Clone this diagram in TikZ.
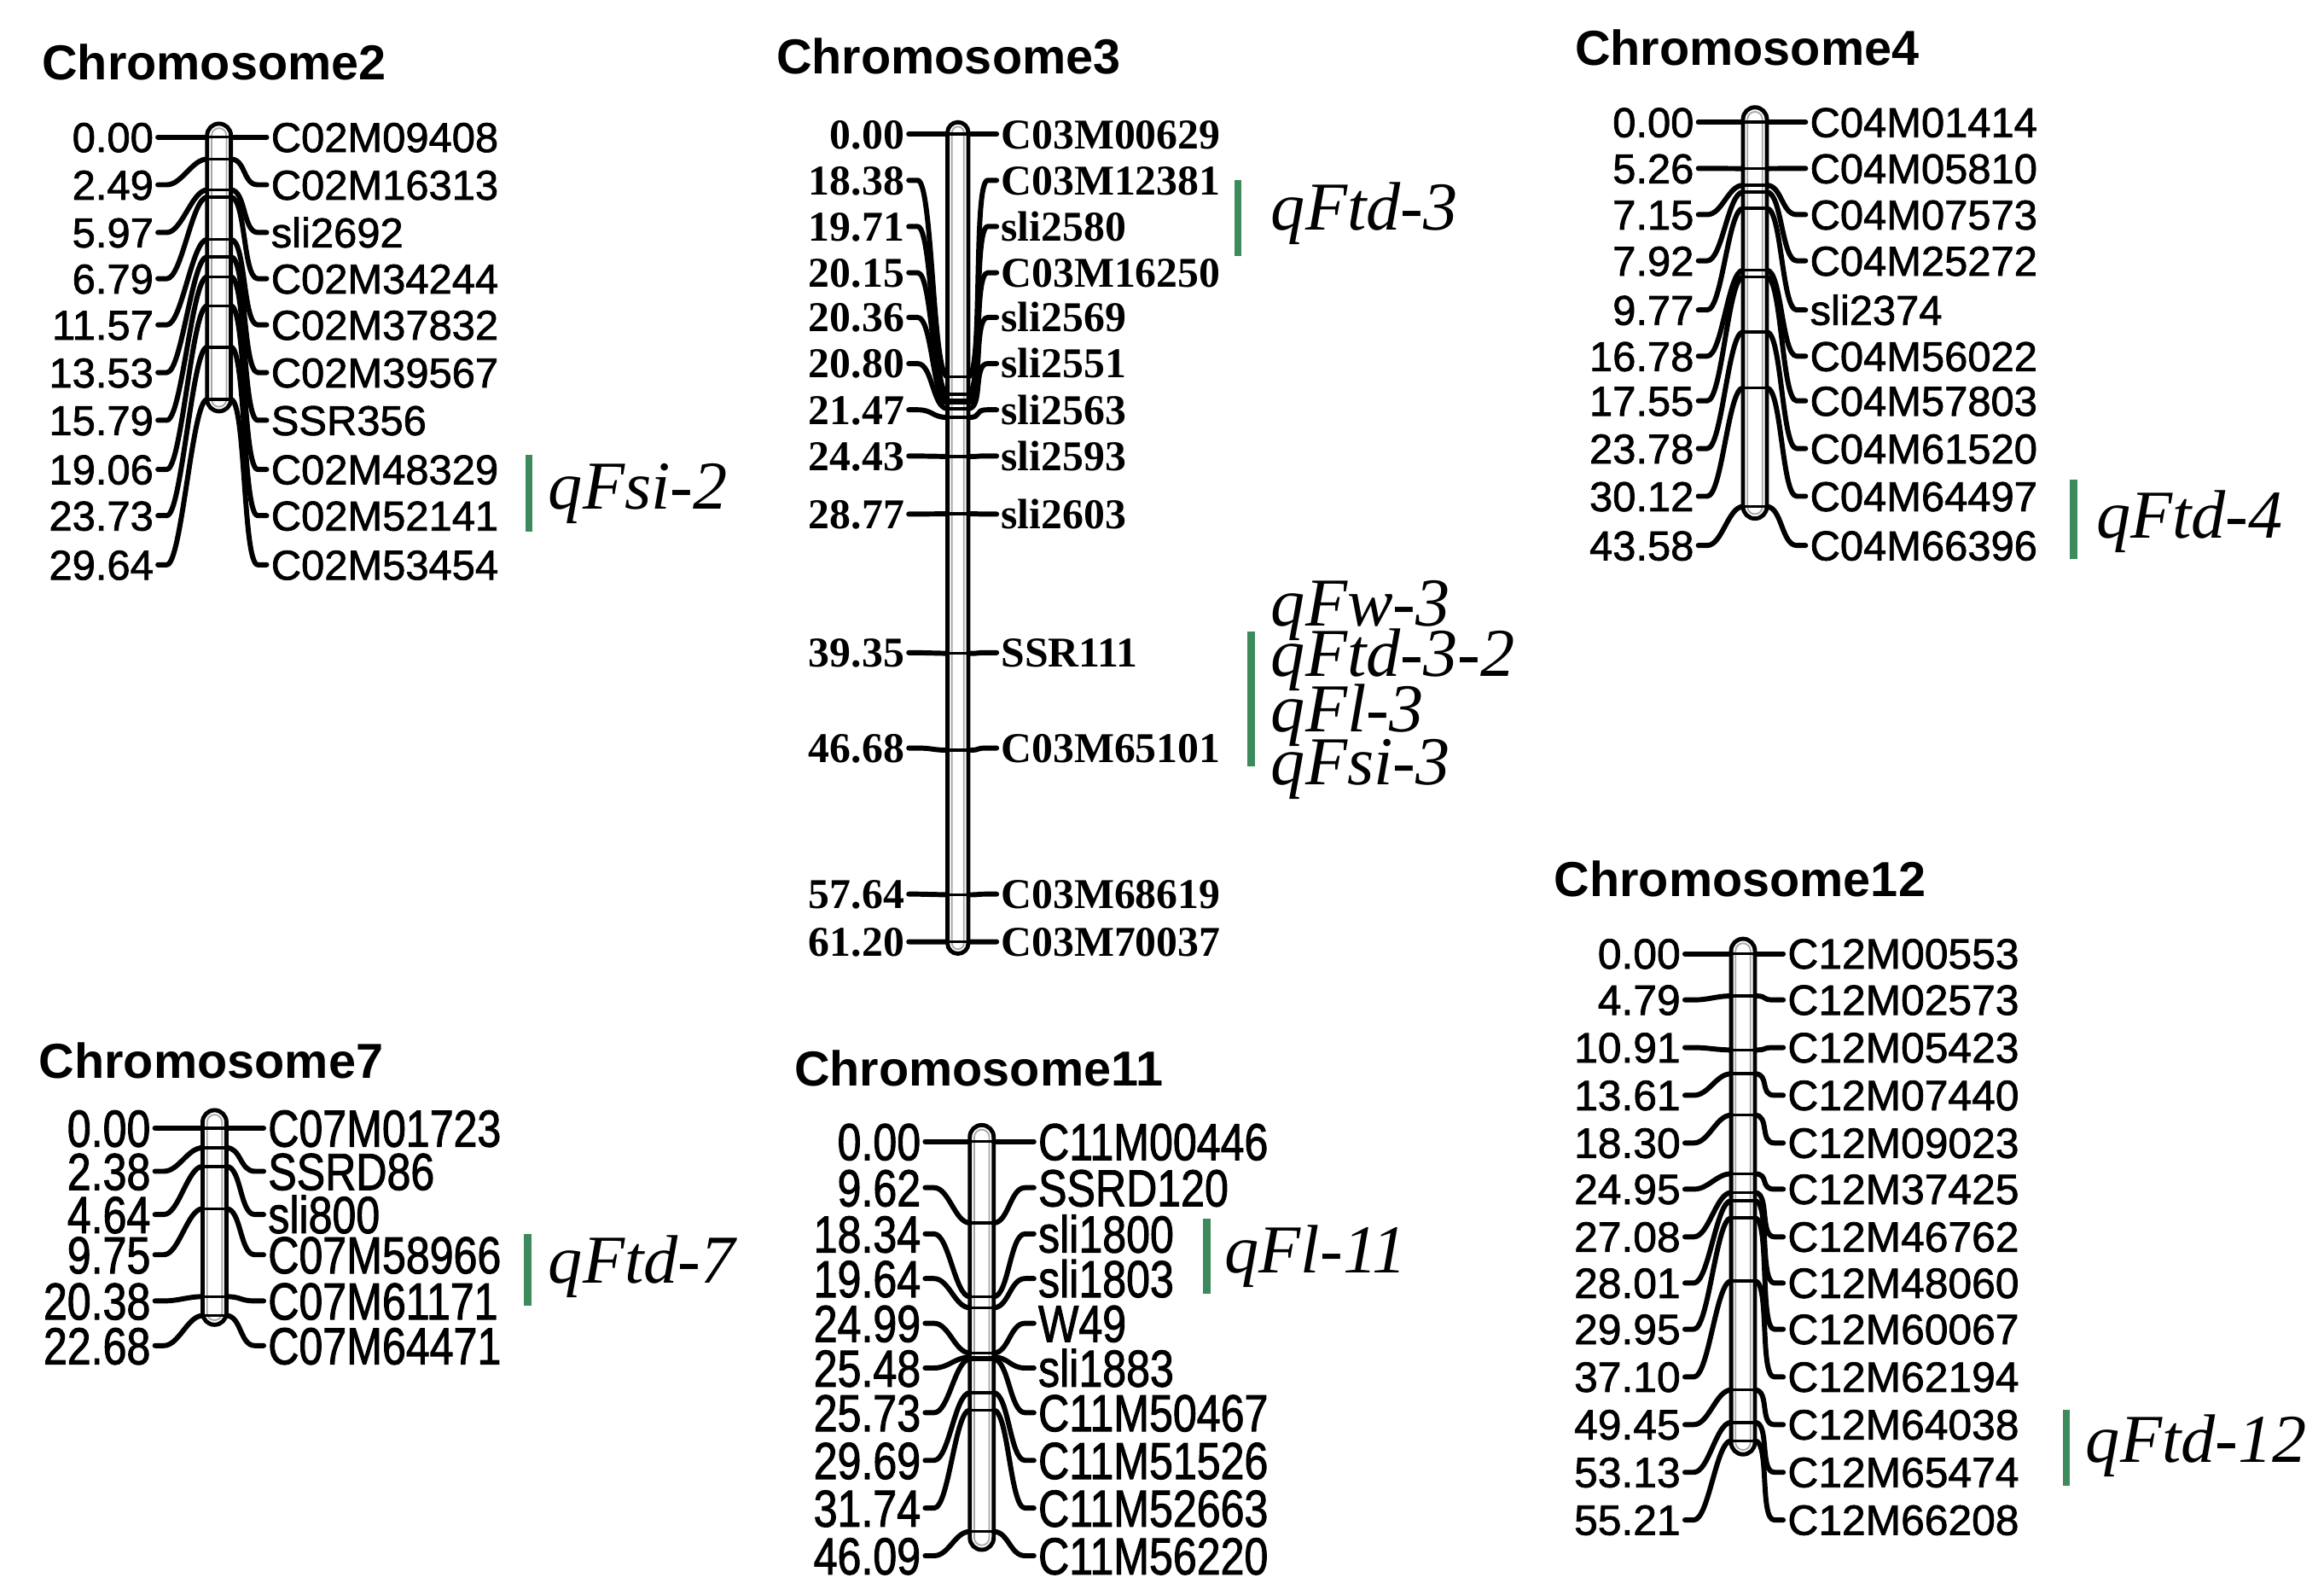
\documentclass[tikz,border=0pt]{standalone}
\usepackage{fontspec}
\setmainfont{Liberation Serif}
\newfontfamily\arialt{Liberation Sans}
\newfontfamily\arialf[FakeBold=1.5]{Liberation Sans}
\newfontfamily\narrowf[FakeStretch=0.82,FakeBold=1.5]{Liberation Sans}
\definecolor{qgreen}{RGB}{61,139,92}
\tikzset{
 lab/.style={inner sep=0pt, outer sep=0pt, text depth=0pt},
 conn/.style={line width=3.4pt, line cap=round, line join=round},
 tickst/.style={line width=2pt},
 qtl/.style={draw=qgreen, line width=5pt},
 qtlt/.style={font=\itshape\fontsize{46}{46}\selectfont, inner sep=0pt, anchor=west},
 ttl/.style={font=\arialt\bfseries\fontsize{33}{33}\selectfont, inner sep=0pt, anchor=west}
}
% #1 id, #2 xc, #3 half width, #4 bar top, #5 bar bottom, #6 y0, #7 k, #8 font, #9 list
\newcommand{\chromo}[9]{%
  \draw[line width=2.8pt, fill=white, rounded corners=#3pt] (#2-#3,#4) rectangle (#2+#3,#5);
  \draw[line width=1pt, gray!70, rounded corners=#3pt-3pt] (#2-#3+3,#4+3) rectangle (#2+#3-3,#5-3);
  \foreach \cmv/\ry/\nm [count=\i] in {#9} {
    \pgfmathsetmacro{\by}{#6+#7*\cmv}
    \node[lab, font={#8}, text height=\th pt, anchor=east] (#1L\i) at (\xL,\ry) {\cmv};
    \node[lab, font={#8}, text height=\th pt, anchor=west] (#1R\i) at (\xR,\ry) {\nm};
    \coordinate (#1bl\i) at (#2-#3,\by);
    \coordinate (#1br\i) at (#2+#3,\by);
    \draw[conn] ([xshift=3pt]#1L\i.east) -- ([xshift=9pt]#1L\i.east)
       .. controls ([xshift=19pt]#1L\i.east) and ([xshift=-10pt]#1bl\i) .. (#1bl\i);
    \draw[conn] ([xshift=-3pt]#1R\i.west) -- ([xshift=-9pt]#1R\i.west)
       .. controls ([xshift=-19pt]#1R\i.west) and ([xshift=10pt]#1br\i) .. (#1br\i);
    \draw[tickst] (#1bl\i) -- (#1br\i);
  }
}
\begin{document}
\begin{tikzpicture}[x=1pt,y=-1pt]
\fill[white] (0,0) rectangle (1560,1070);
\useasboundingbox (0,0) rectangle (1560,1070);

% ---------- Chromosome 2
\node[ttl] (t2) at (28,42) {Chromosome2};
\def\xL{103}\def\xR{182}\def\th{20}
\chromo{c2}{147}{8}{83}{276}{92}{5.94}{\arialf\fontsize{28}{28}\selectfont}
 {0.00/92/C02M09408, 2.49/124/C02M16313, 5.97/156/sli2692, 6.79/187/C02M34244,
  11.57/218/C02M37832, 13.53/250/C02M39567, 15.79/282/SSR356, 19.06/315/C02M48329,
  23.73/346/C02M52141, 29.64/379/C02M53454}
\draw[qtl] (355,305) -- (355,357);
\node[qtlt] (q2) at (368,331) {qFsi-2};

% ---------- Chromosome 3
\node[ttl] (t3) at (521,38) {Chromosome3};
\def\xL{607}\def\xR{672}\def\th{19.3}
\chromo{c3}{643}{7}{82}{640}{90}{8.856}{\bfseries\fontsize{28.5}{28.5}\selectfont}
 {0.00/90/C03M00629, 18.38/121/C03M12381, 19.71/152/sli2580, 20.15/183/C03M16250,
  20.36/213/sli2569, 20.80/244/sli2551, 21.47/275/sli2563, 24.43/306/sli2593,
  28.77/345/sli2603, 39.35/438/SSR111, 46.68/502/C03M65101, 57.64/600/C03M68619,
  61.20/632/C03M70037}
\draw[qtl] (831,121) -- (831,172);
\node[qtlt] (q3) at (853,143) {qFtd-3};
\draw[qtl] (840,424) -- (840,514);
\node[qtlt] (q3a) at (853,410) {qFw-3};
\node[qtlt] (q3b) at (853,443) {qFtd-3-2};
\node[qtlt] (q3c) at (853,480) {qFl-3};
\node[qtlt] (q3d) at (853,516) {qFsi-3};

% ---------- Chromosome 4
\node[ttl] (t4) at (1057,32) {Chromosome4};
\def\xL{1137}\def\xR{1215}\def\th{20}
\chromo{c4}{1178}{8}{72}{348}{82}{5.92}{\arialf\fontsize{28}{28}\selectfont}
 {0.00/82/C04M01414, 5.26/113/C04M05810, 7.15/144/C04M07573, 7.92/175/C04M25272,
  9.77/208/sli2374, 16.78/239/C04M56022, 17.55/269/C04M57803, 23.78/301/C04M61520,
  30.12/333/C04M64497, 43.58/366/C04M66396}
\draw[qtl] (1392,322) -- (1392,375);
\node[qtlt] (q4) at (1407,350) {qFtd-4};

% ---------- Chromosome 7
\node[ttl] (t7) at (26,712) {Chromosome7};
\def\xL{101}\def\xR{180}\def\th{25}
\chromo{c7}{144}{8}{745}{889}{757}{5.55}{\narrowf\fontsize{35}{35}\selectfont}
 {0.00/757/C07M01723, 2.38/786/SSRD86, 4.64/815/sli800, 9.75/842/C07M58966,
  20.38/873/C07M61171, 22.68/903/C07M64471}
\draw[qtl] (354,828) -- (354,876);
\node[qtlt] (q7) at (368,850) {qFtd-7};

% ---------- Chromosome 11
\node[ttl] (t11) at (533,717) {Chromosome11};
\def\xL{618}\def\xR{697}\def\th{25}
\chromo{c11}{659}{8}{755}{1040}{766}{5.68}{\narrowf\fontsize{35}{35}\selectfont}
 {0.00/766/C11M00446, 9.62/797/SSRD120, 18.34/828/sli1800, 19.64/858/sli1803,
  24.99/888/W49, 25.48/918/sli1883, 25.73/948/C11M50467, 29.69/980/C11M51526,
  31.74/1012/C11M52663, 46.09/1044/C11M56220}
\draw[qtl] (810,818) -- (810,868);
\node[qtlt] (q11) at (822,843) {qFl-11};

% ---------- Chromosome 12
\node[ttl] (t12) at (1043,590) {Chromosome12};
\def\xL{1128}\def\xR{1200}\def\th{20}
\chromo{c12}{1170}{8}{630}{976}{640}{5.92}{\arialf\fontsize{28.5}{28.5}\selectfont}
 {0.00/640/C12M00553, 4.79/671/C12M02573, 10.91/703/C12M05423, 13.61/735/C12M07440,
  18.30/767/C12M09023, 24.95/798/C12M37425, 27.08/830/C12M46762, 28.01/861/C12M48060,
  29.95/892/C12M60067, 37.10/924/C12M62194, 49.45/956/C12M64038, 53.13/988/C12M65474,
  55.21/1020/C12M66208}
\draw[qtl] (1387,946) -- (1387,997);
\node[qtlt] (q12) at (1400,970) {qFtd-12};
\end{tikzpicture}
\end{document}
